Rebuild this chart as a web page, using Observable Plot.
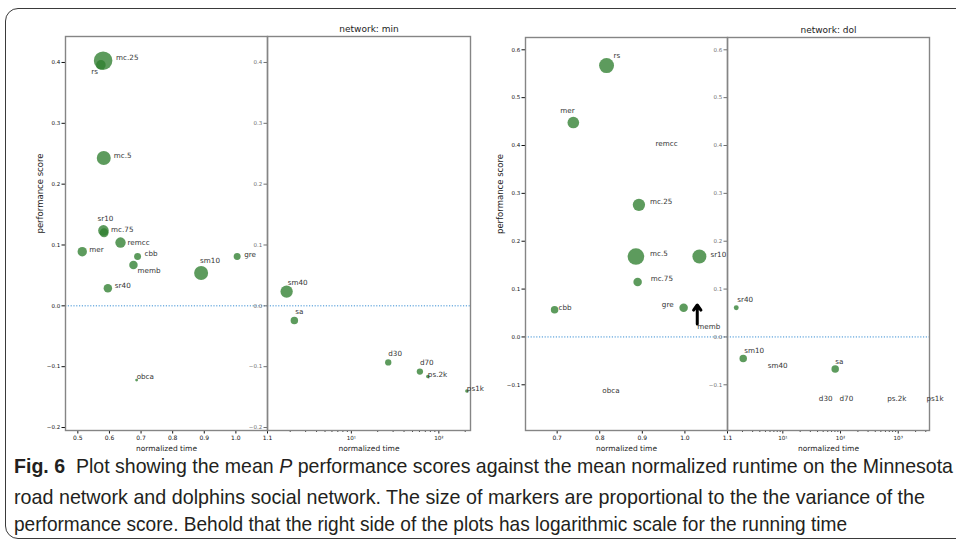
<!DOCTYPE html>
<html><head><meta charset="utf-8">
<script src="https://cdn.jsdelivr.net/npm/d3@7"></script>
<script src="https://cdn.jsdelivr.net/npm/@observablehq/plot@0.6"></script>
<style>
html,body{margin:0;padding:0;}
body{width:956px;height:546px;overflow:hidden;background:#fff;position:relative;font-family:"DejaVu Sans",sans-serif;}
#box{position:absolute;left:5px;top:8px;width:1100px;height:531px;border:1px solid #3a3a3a;border-radius:13px;box-sizing:border-box;}
.panel{position:absolute;top:0;}
.cl{position:absolute;left:14px;white-space:nowrap;transform-origin:0 50%;font-family:"Liberation Sans Narrow","Liberation Sans",Arial,sans-serif;font-size:21px;color:#231f20;line-height:1;}
</style></head>
<body>
<div id="box"></div>
<div id="charts"></div>
<div id="caption">
  <div class="cl" id="l1" data-w="939" style="top:455px"><b>Fig. 6</b>&nbsp; Plot showing the mean <i>P</i> performance scores against the mean normalized runtime on the Minnesota</div>
  <div class="cl" id="l2" data-w="911" style="top:486px">road network and dolphins social network. The size of markers are proportional to the the variance of the</div>
  <div class="cl" id="l3" data-w="833" style="top:513px">performance score. Behold that the right side of the plots has logarithmic scale for the running time</div>
</div>
<script>
// ---------- data ----------
const minNames = ["mc.25","rs","mc.5","sr10","mc.75","remcc","mer","cbb","memb","sm10","sr40","gre","obca","sm40","sa","d30","d70","ps.2k","ps1k"];
const minTime  = [0.580,0.573,0.582,0.581,0.583,0.635,0.514,0.689,0.676,0.890,0.595,1.004,0.686,1.82,2.23,26.4,60.7,74.8,209];
const minScore = [0.403,0.396,0.243,0.124,0.120,0.104,0.089,0.081,0.067,0.054,0.029,0.081,-0.122,0.0235,-0.024,-0.093,-0.108,-0.116,-0.140];
const minVar   = [0.0086,0.0023,0.0049,0.0028,0.0020,0.0027,0.0022,0.0012,0.0018,0.0049,0.0018,0.0012,0.0002,0.0038,0.0014,0.0010,0.0010,0.0003,0.0003];

const dolNames = ["rs","mer","remcc","mc.25","mc.5","sr10","mc.75","cbb","gre","memb","obca","sr40","sm10","sm40","sa","d30","d70","ps.2k","ps1k"];
const dolTime  = [0.816,0.738,0.931,0.892,0.885,1.034,0.889,0.694,0.997,1.029,0.806,1.56,2.06,5.49,80.9,42.1,96.0,644,3090];
const dolScore = [0.567,0.448,0.404,0.276,0.168,0.168,0.115,0.057,0.061,0.067,-0.112,0.061,-0.045,-0.061,-0.067,-0.128,-0.128,-0.128,-0.128];
const dolVar   = [0.0056,0.0034,0,0.0038,0.0069,0.0049,0.0018,0.0014,0.0018,0,0,0.0006,0.0014,0,0.0014,0,0,0,0];

const networkTitles = ["network: min","network: dol"];
const yLabel = "performance score";
const xLabel = "normalized time";
const memoName = "memb";

const minYTicks = [-0.2,-0.1,0,0.1,0.2,0.3,0.4];
const dolYTicks = [-0.1,0,0.1,0.2,0.3,0.4,0.5,0.6];
const minLinTicks = [0.5,0.6,0.7,0.8,0.9,1.0,1.1];
const dolLinTicks = [0.7,0.8,0.9,1.0,1.1];
const minLogMajor = [10,100];
const dolLogMajor = [10,100,1000];
const logTickLabels = {10:"10\u00b9",100:"10\u00b2",1000:"10\u00b3"};
const minLogMinor = [2,3,4,5,6,7,8,9,20,30,40,50,60,70,80,90,200];
const dolLogMinor = [2,3,4,5,6,7,8,9,20,30,40,50,60,70,80,90,200,300,400,500,600,700,800,900,2000,3000];

// label offsets (dx, dy, anchor)
const minLabelOffsets = {"mc.25":[13,-3],"rs":[-3,7,"end"],"mc.5":[10,-2],"sr10":[-6,-12],"mc.75":[7,-3],"remcc":[7,0],"mer":[7,-2],"cbb":[7,-3],"memb":[4,6],"sm10":[-1,-12],"sr40":[7,-3],"gre":[7,-2],"obca":[0,-3],"sm40":[1,-9],"sa":[1,-9],"d30":[0,-9],"d70":[0,-9],"ps.2k":[0,-2],"ps1k":[0,-2]};
const dolLabelOffsets = {"rs":[7,-10],"mer":[-13,-12],"remcc":[0,0],"mc.25":[11,-3],"mc.5":[14,-3],"sr10":[11,-2],"mc.75":[13,-3],"cbb":[4,-2],"gre":[-10,-3,"end"],"memb":[0,22],"obca":[0,0],"sr40":[1,-8],"sm10":[1,-8],"sm40":[0,0],"sa":[0,-7],"d30":[0,0],"d70":[0,0],"ps.2k":[0,0],"ps1k":[0,0]};

// ---------- drawing ----------
const FILL = "#2f7f2f";
const fmt1 = d3.format(".1f");
const SPLIT = 1.1;

function rows(names, time, score, vari){
  return names.map((n,i)=>({name:n,t:time[i],s:score[i],v:vari[i]}));
}

function panel(cfg){
  const data = cfg.data;
  const marks = [
    Plot.ruleY([0], {stroke:"#3a8fd4", strokeWidth:1, strokeDasharray:"1.2,1.6"}),
    Plot.axisY(cfg.yTicks, {tickSize:3.5, tickPadding:1.8, fontSize:cfg.yFont, tickFormat:fmt1, color:cfg.yColor, label:null}),
  ];
  if (cfg.log) {
    marks.push(Plot.axisX(cfg.major, {tickSize:3.5, tickPadding:1.8, fontSize:5.6, tickFormat:d=>logTickLabels[d], label:null, color:"#222"}));
    marks.push(Plot.axisX(cfg.minor, {tickSize:2, tickFormat:()=>"", label:null, color:"#444"}));
  } else {
    marks.push(Plot.axisX(cfg.xTicks, {tickSize:3.5, tickPadding:1.8, fontSize:6, tickFormat:fmt1, label:null, color:"#111"}));
  }
  marks.push(Plot.frame({stroke:"#858585", strokeWidth:1.4}));
  marks.push(Plot.dot(data, {x:"t", y:"s", r:"v", fill:FILL, fillOpacity:0.78, sort:{channel:"r", order:"descending"}}));
  for (const d of data) {
    const o = cfg.offsets[d.name] || [6,-2];
    marks.push(Plot.text([d], {x:"t", y:"s", text:"name", dx:o[0], dy:o[1], textAnchor:o[2]||"start", fontSize:7.2, fill:"#333"}));
  }
  if (cfg.arrowFor) {
    const a = data.filter(d=>d.name===cfg.arrowFor);
    marks.push(Plot.arrow(a, {x1:"t", x2:"t", y1:d=>d.s-0.04, y2:"s", stroke:"#000", strokeWidth:3, headLength:6, headAngle:70}));
  }
  marks.push(Plot.text([xLabel], {frameAnchor:"bottom", text:d=>d, dy:18, lineAnchor:"middle", fontSize:7.5, fill:"#222"}));
  if (cfg.yLabel) marks.push(Plot.text([cfg.yLabel], {frameAnchor:"left", text:d=>d, rotate:-90, dx:-25, fontSize:8.5, fill:"#222"}));
  if (cfg.title) marks.push(Plot.text([cfg.title], {frameAnchor:"top", text:d=>d, dy:-7, lineAnchor:"middle", fontSize:9, fill:"#222"}));

  const svg = Plot.plot({
    width: cfg.width, height: 460,
    marginLeft: cfg.mL, marginRight: cfg.mR, marginTop: cfg.mT, marginBottom: 30,
    x: cfg.log ? {type:"log", domain:cfg.xDomain} : {domain:cfg.xDomain},
    y: {domain: cfg.yDomain},
    r: {type:"sqrt", domain:[0,0.01], range:[0,10]},
    style: {background:"transparent", overflow:"visible", fontFamily:"DejaVu Sans"},
    marks
  });
  const wrap = document.createElement("div");
  wrap.className = "panel";
  wrap.style.left = cfg.left + "px";
  wrap.appendChild(svg);
  document.getElementById("charts").appendChild(wrap);
}

const minRows = rows(minNames, minTime, minScore, minVar);
const dolRows = rows(dolNames, dolTime, dolScore, dolVar);

// network: min
panel({data:minRows.filter(d=>d.t<=SPLIT), offsets:minLabelOffsets, log:false, xDomain:[0.461,1.1], yDomain:[-0.2049,0.4427],
  yTicks:minYTicks, xTicks:minLinTicks, left:0, width:267, mL:65, mR:0, mT:36, yFont:5.5, yColor:"#111", yLabel:yLabel});
panel({data:minRows.filter(d=>d.t>SPLIT), offsets:minLabelOffsets, log:true, xDomain:[1.1,230], yDomain:[-0.2049,0.4427],
  yTicks:minYTicks, major:minLogMajor, minor:minLogMinor, left:230, width:260, mL:37, mR:20, mT:36, yFont:5.5, yColor:"#6f6f6f", title:networkTitles[0]});
// network: dol
panel({data:dolRows.filter(d=>d.t<=SPLIT), offsets:dolLabelOffsets, log:false, xDomain:[0.6257,1.1], yDomain:[-0.1955,0.6257],
  yTicks:dolYTicks, xTicks:dolLinTicks, left:480, width:247, mL:45, mR:0, mT:37, yFont:5.5, yColor:"#111", yLabel:yLabel, arrowFor:memoName});
panel({data:dolRows.filter(d=>d.t>SPLIT), offsets:dolLabelOffsets, log:true, xDomain:[1.1,3483], yDomain:[-0.1955,0.6257],
  yTicks:dolYTicks, major:dolLogMajor, minor:dolLogMinor, left:690, width:260, mL:37, mR:21, mT:37, yFont:5.5, yColor:"#6f6f6f", title:networkTitles[1]});

// caption line fitting
function fit(){
  for (const el of document.querySelectorAll(".cl")) {
    el.style.transform = "none";
    const w = el.getBoundingClientRect().width;
    const target = +el.dataset.w;
    el.style.transform = `scaleX(${target / w})`;
  }
}
fit();
if (document.fonts && document.fonts.ready) document.fonts.ready.then(fit);
</script>
</body></html>
